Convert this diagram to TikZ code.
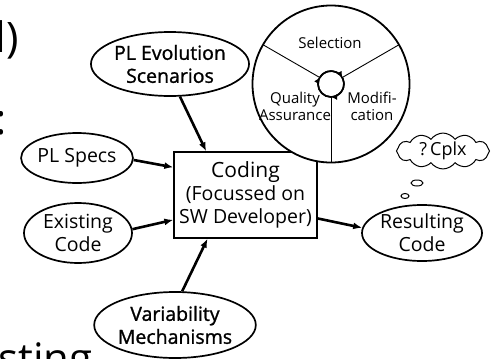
\documentclass[tikz,border=0pt]{standalone}
\usepackage{fontspec}
\setmainfont{Open Sans}
\newfontfamily\heavyfont[FakeBold=1.2]{Open Sans}
\usetikzlibrary{shapes.geometric,shapes.symbols,arrows.meta}
\begin{document}
\begin{tikzpicture}[x=1pt,y=-1pt,
  every node/.style={font=\fontsize{19.5}{23}\selectfont, align=center, inner sep=0pt},
  bubble/.style={ellipse, draw, line width=1.7pt, fill=white},
  flow/.style={line width=2.6pt, -{Latex[length=9pt,width=7pt]}},
  spoke/.style={line width=0.9pt},
  wheeltext/.style={font=\fontsize{15}{17}\selectfont},
  frag/.style={font=\fontsize{42}{46}\selectfont},
  turn/.style={line width=1.6pt, -{Latex[length=6pt,width=6pt]}}]
\useasboundingbox (0,0) rectangle (493,359);
\clip (0,0) rectangle (493,359);

% slide text running off the edges
\node[frag, anchor=base east] (paren) at (19,52) {l)};
\node[frag, anchor=base west] (colon) at (-4.5,134) {:};
\node[frag, anchor=base west] (tail) at (-2,373) {sting};

% central activity
\node[draw, line width=1.3pt, fill=white, minimum width=143pt, minimum height=86pt] (coding)
  at (245.5,195) {{\fontsize{21}{24}\selectfont Coding}\\(Focussed on\\SW Developer)};

% evolution cycle
\node[circle, draw, line width=1.8pt, fill=white, outer sep=0pt, minimum size=157pt] (wheel) at (331,84) {};
\node[circle, draw, line width=1.6pt, outer sep=0pt, minimum size=26pt] (hub) at (331,84) {};
\draw[spoke] (hub.150) -- (wheel.150);
\draw[spoke] (hub.30) -- (wheel.30);
\draw[spoke] (hub.270) -- (wheel.270);
\draw[turn] (hub.270) arc[start angle=270, end angle=150, radius=13pt];
\draw[turn] (hub.150) arc[start angle=150, end angle=30, radius=13pt];
\draw[turn] (hub.30) arc[start angle=30, end angle=-90, radius=13pt];
\node[wheeltext] (sel) at (330,43) {Selection};
\node[wheeltext] (qa) at (295,106) {Quality\\Assurance};
\node[wheeltext] (mod) at (372,106) {Modifi-\\cation};

% inputs and output
\node[bubble, minimum width=156pt, minimum height=64pt] (evo) at (170,64) {\heavyfont PL Evolution\\\heavyfont Scenarios};
\node[bubble, minimum width=104pt, minimum height=50pt] (specs) at (77,158) {PL Specs};
\node[bubble, minimum width=108pt, minimum height=60pt] (exist) at (78,233) {Existing\\Code};
\node[bubble, minimum width=154pt, minimum height=66pt] (var) at (175,325) {\heavyfont Variability\\\heavyfont Mechanisms};
\node[bubble, minimum width=120pt, minimum height=56pt] (result) at (422,233) {Resulting\\Code};

% thought cloud
\node[cloud, draw, line width=1pt, cloud puffs=12, cloud puff arc=110, aspect=3.3,
  minimum width=93pt, minimum height=28pt, font=\fontsize{18}{20}\selectfont] (cplx) at (443,151) {?\,Cplx};
\node[ellipse, draw, line width=1pt, minimum width=12pt, minimum height=6pt] (puffA) at (417,183) {};
\node[ellipse, draw, line width=1pt, minimum width=8pt, minimum height=5pt] (puffB) at (405,196) {};

% connectors
\draw[flow] (evo.-73) -- (coding.132);
\draw[flow] (specs.-2) -- (coding.159);
\draw[flow] (exist.4) -- (coding.199);
\draw[flow] (var.78) -- (coding.229);
\draw[flow] (coding.-18) -- (result.175);
\end{tikzpicture}
\end{document}
